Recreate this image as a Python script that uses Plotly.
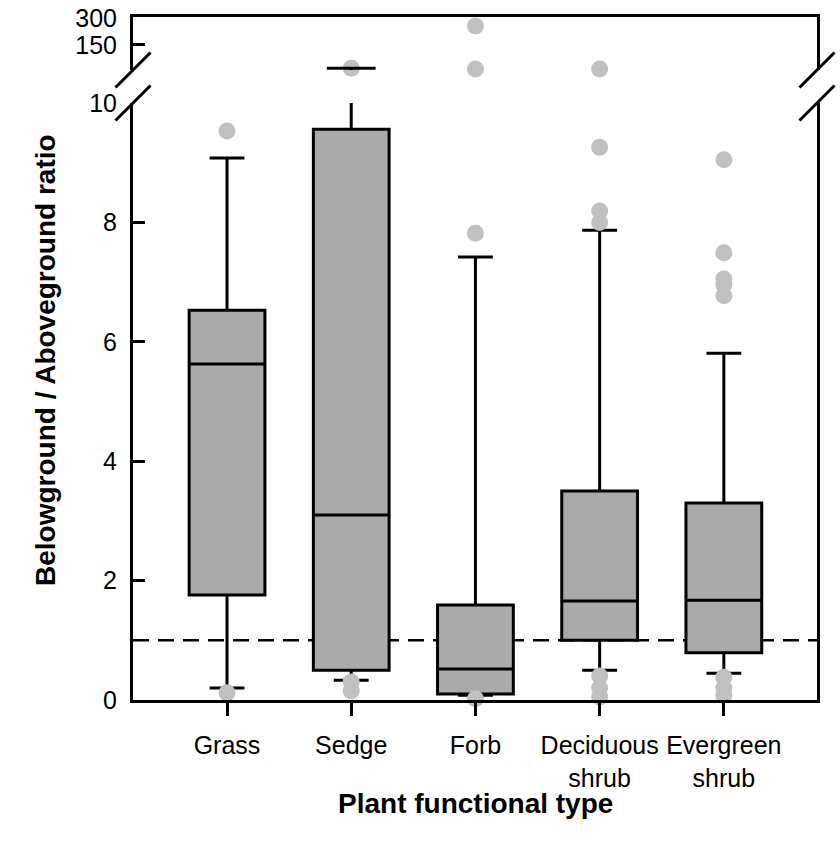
import plotly.graph_objects as go

# ---------------- data ----------------
categories = ["Grass", "Sedge", "Forb", "Deciduous<br>shrub", "Evergreen<br>shrub"]
q1 = [1.76, 0.50, 0.10, 1.00, 0.79]
median = [5.63, 3.10, 0.52, 1.66, 1.67]
q3 = [6.53, 9.56, 1.59, 3.50, 3.30]
lower_whisker = [0.20, 0.33, 0.08, 0.50, 0.45]
upper_whisker = [9.08, 20.0, 7.42, 7.87, 5.81]

outliers = {
    "Grass": [9.53, 0.12],
    "Sedge": [20.0, 0.30, 0.15],
    "Forb": [255.0, 16.0, 7.82, 0.02],
    "Deciduous<br>shrub": [16.0, 9.26, 8.19, 8.00, 0.40, 0.20, 0.05],
    "Evergreen<br>shrub": [9.05, 7.49, 7.05, 6.95, 6.77, 0.38, 0.20, 0.08],
}

lower_ticks = [0, 2, 4, 6, 8, 10]
upper_ticks = [150, 300]
break_value = 10
upper_max = 305
ref_line = 1

# ---------------- layout constants ----------------
# body margin is removed in the page, so the plot area lands at
# x 133..817, y 17..700 in the window
W, H = 840, 846
ML, MR, MT, MB = 133, 23, 17, 146
plot_w = W - ML - MR
plot_h = H - MT - MB
lower_top = (700 - 103) / plot_h
upper_bottom = (700 - 70) / plot_h

FONT = "Liberation Sans, Arial, sans-serif"
GRAY_BOX = "#aaaaaa"
GRAY_DOT = "#c0c0c0"
BOX_W = 0.61
CAP_FRAC = 0.46
X_RANGE = [-0.757, 4.75]
unit_px = plot_w / (X_RANGE[1] - X_RANGE[0])

fig = go.Figure()

# outlier dots
lo_x, lo_y, hi_x, hi_y = [], [], [], []
for cat, vals in outliers.items():
    for v in vals:
        if v > break_value:
            hi_x.append(cat); hi_y.append(v)
        else:
            lo_x.append(cat); lo_y.append(v)

dot = dict(color=GRAY_DOT, size=17, line=dict(width=0))
fig.add_trace(go.Scatter(x=lo_x, y=lo_y, mode="markers", marker=dot,
                         cliponaxis=False, xaxis="x", yaxis="y", showlegend=False))
fig.add_trace(go.Scatter(x=hi_x, y=hi_y, mode="markers", marker=dot,
                         cliponaxis=False, xaxis="x2", yaxis="y2", showlegend=False))

# boxes (lower panel)
fig.add_trace(go.Box(
    x=categories, q1=q1, median=median, q3=q3,
    lowerfence=lower_whisker, upperfence=upper_whisker,
    width=BOX_W, whiskerwidth=CAP_FRAC, fillcolor=GRAY_BOX,
    line=dict(color="black", width=3), boxpoints=False, showlegend=False,
    hoverinfo="skip", xaxis="x", yaxis="y"))

# whiskers that continue above the axis break (upper panel)
for cat, uw in zip(categories, upper_whisker):
    if uw > break_value:
        fig.add_trace(go.Scatter(
            x=[cat, cat], y=[break_value, uw], mode="lines",
            line=dict(color="black", width=3), cliponaxis=False,
            xaxis="x2", yaxis="y2", showlegend=False, hoverinfo="skip"))
        fig.add_trace(go.Scatter(
            x=[cat], y=[uw], mode="markers",
            marker=dict(symbol="line-ew", size=BOX_W * CAP_FRAC * unit_px,
                        line=dict(color="black", width=3)),
            cliponaxis=False, xaxis="x2", yaxis="y2", showlegend=False,
            hoverinfo="skip"))

axis_common = dict(showgrid=False, zeroline=False, linecolor="black", linewidth=3,
                   automargin=False, tickcolor="black", ticklabeloverflow="allow",
                   tickfont=dict(family=FONT, size=25, color="black"))

fig.update_layout(
    width=W, height=H,
    margin=dict(l=ML, r=MR, t=MT, b=MB),
    plot_bgcolor="white", paper_bgcolor="white",
    showlegend=False,
    xaxis=dict(**axis_common, domain=[0, 1], anchor="y", type="category",
               range=X_RANGE, showline=True, ticks="outside",
               ticklen=13, tickwidth=3, ticklabelstandoff=8,
               categoryorder="array", categoryarray=categories),
    xaxis2=dict(**axis_common, domain=[0, 1], anchor="y2", matches="x",
                type="category", showline=True, side="top", ticks="",
                showticklabels=False),
    yaxis=dict(**axis_common, domain=[0, lower_top], anchor="x",
               range=[0, break_value], tickvals=lower_ticks, showline=True,
               mirror=True, ticks="inside", ticklen=12, tickwidth=2.5,
               ticklabelstandoff=8),
    yaxis2=dict(**axis_common, domain=[upper_bottom, 1], anchor="x2",
                range=[break_value, upper_max], tickvals=upper_ticks,
                showline=True, mirror=True, ticks="inside", ticklen=12,
                tickwidth=2.5, ticklabelstandoff=8),
)

shapes = [
    dict(type="line", xref="x domain", yref="y", x0=0, x1=1, y0=ref_line, y1=ref_line,
         line=dict(color="black", width=2.5, dash="16px,9px"), layer="below"),
]
# axis break marks
dx = 17.5 / plot_w
dy = 17.5 / plot_h
for xc in (0, 1):
    for yc in (upper_bottom, lower_top):
        shapes.append(dict(type="line", xref="paper", yref="paper",
                           x0=xc - dx, x1=xc + dx, y0=yc - dy, y1=yc + dy,
                           line=dict(color="black", width=3)))
fig.update_layout(shapes=shapes)

fig.add_annotation(text="<b>Belowground / Aboveground ratio</b>", xref="paper", yref="paper",
                   x=(45 - ML) / plot_w, y=(700 - 360) / plot_h, textangle=-90,
                   showarrow=False, font=dict(family=FONT, size=28, color="black"),
                   xanchor="center", yanchor="middle")
fig.add_annotation(text="<b>Plant functional type</b>", xref="paper", yref="paper",
                   x=0.5, y=(700 - 803) / plot_h, showarrow=False,
                   font=dict(family=FONT, size=28, color="black"),
                   xanchor="center", yanchor="middle")

fig.write_html("out.html",
               config={"displayModeBar": False},
               post_script="document.body.style.margin='0';document.body.style.overflow='hidden';")
